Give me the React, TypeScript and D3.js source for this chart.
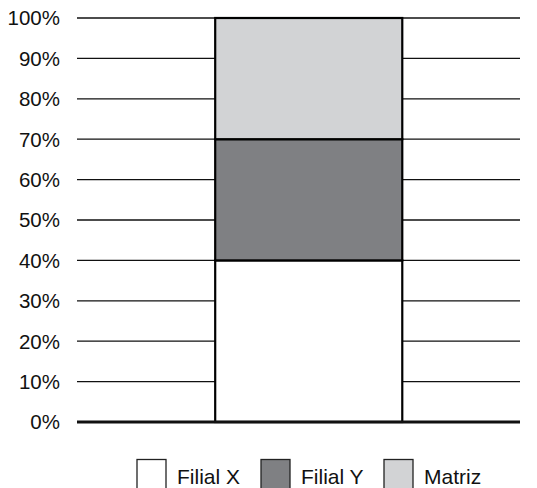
import { scaleLinear, scaleBand, stack } from "d3";

const categories = ["Total"];
const seriesNames = ["Filial X", "Filial Y", "Matriz"];
const filialX = [40];
const filialY = [30];
const matriz = [30];
const colors = ["#ffffff", "#7f8083", "#d2d3d5"];
const yTicks = [0, 10, 20, 30, 40, 50, 60, 70, 80, 90, 100];

const rows = categories.map((c, i) => ({
  cat: c,
  "Filial X": filialX[i],
  "Filial Y": filialY[i],
  Matriz: matriz[i],
}));

export default function App() {
  const width = 537;
  const height = 488;
  const left = 77;
  const right = 520;
  const top = 18;
  const bottom = 422;

  const y = scaleLinear().domain([0, 100]).range([bottom, top]);
  const x = scaleBand()
    .domain(categories)
    .range([left, right])
    .paddingInner(0)
    .paddingOuter(0.684)
    .align(0.54);
  const layers = stack<any>().keys(seriesNames)(rows);

  const font = "Liberation Sans, Arial, sans-serif";
  const legendX = [137, 261, 384];

  return (
    <svg
      width={width}
      height={height}
      style={{ position: "absolute", left: 0, top: 0, background: "#fff" }}
      fontFamily={font}
    >
      {/* grid */}
      {yTicks.map((t) => (
        <line
          key={t}
          x1={left}
          x2={right}
          y1={y(t)}
          y2={y(t)}
          stroke="#111"
          strokeWidth={1.3}
        />
      ))}
      {yTicks.map((t) => (
        <text
          key={"l" + t}
          x={60}
          y={y(t)}
          dy="0.36em"
          textAnchor="end"
          fontSize={20.5}
          fill="#111"
        >
          {t}%
        </text>
      ))}
      {/* bars */}
      {layers.map((layer, li) =>
        layer.map((d, i) => (
          <rect
            key={li + "-" + i}
            x={x(categories[i])!}
            y={y(d[1])}
            width={x.bandwidth()}
            height={y(d[0]) - y(d[1])}
            fill={colors[li]}
            stroke="#000"
            strokeWidth={2.2}
          />
        ))
      )}
      <line x1={left} x2={right} y1={bottom} y2={bottom} stroke="#111" strokeWidth={2.8} />
      {/* legend */}
      {seriesNames.map((s, i) => (
        <g key={s} transform={`translate(${legendX[i]},459.5)`}>
          <rect x={0} y={0} width={29} height={30} fill={colors[i]} stroke="#222" strokeWidth={1.3} />
          <text x={40} y={24} fontSize={21} fill="#111">
            {s}
          </text>
        </g>
      ))}
    </svg>
  );
}
